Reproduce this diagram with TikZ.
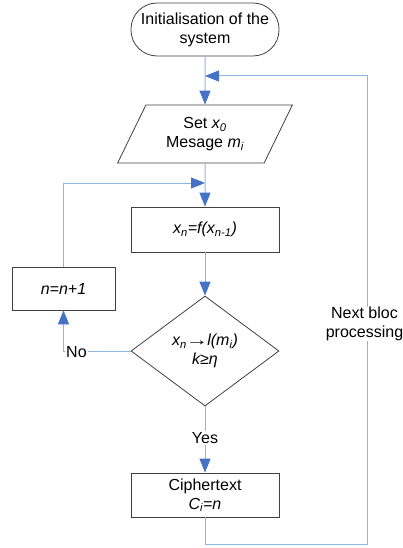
\documentclass[tikz,border=0pt]{standalone}
\usepackage{fontspec}
\setmainfont{Liberation Sans}
\usetikzlibrary{arrows.meta,shapes.geometric}

\definecolor{linkblue}{RGB}{141,180,226}
\definecolor{headblue}{RGB}{68,114,196}
\definecolor{boxgray}{RGB}{64,64,64}

\tikzset{
  box/.style={draw=boxgray, line width=0.8pt, align=center, inner sep=0pt},
  link/.style={draw=linkblue, line width=1pt},
  flow/.style={-{Triangle[length=14pt,width=11pt,color=headblue]}},
  lbl/.style={fill=white, inner sep=1pt, align=center},
}

\begin{document}
\begin{tikzpicture}[x=1pt, y=-1pt, font=\fontsize{16}{19}\selectfont]
  %\draw[lightgray] (0,0) grid[step=20] (403,548);
  \useasboundingbox (0,0) rectangle (403,548);

  \node[box, rounded corners=26pt, minimum width=148pt, minimum height=53pt] (init) at (205,29.5) {Initialisation of the\\system};
  \node[box, trapezium, trapezium left angle=61, trapezium right angle=119, trapezium stretches=true,
        minimum width=175pt, minimum height=58pt] (setx) at (205,134) {Set \textit{x\textsubscript{0}}\\Mesage \textit{m\textsubscript{i}}};
  \node[box, minimum width=148pt, minimum height=45pt] (calc) at (205,229.5) {\textit{x\textsubscript{n}=f(x\textsubscript{n-1})}};
  \node[box, diamond, aspect=1.35, minimum width=148pt, minimum height=110pt] (dec) at (205,351) {\textit{x\textsubscript{n}\kern-1pt\scalebox{1.4}[1]{→}\kern-1pt l(m\textsubscript{i})}\\\textit{k≥η}};
  \node[box, minimum width=103pt, minimum height=43pt] (incr) at (63.5,288.5) {\textit{n=n+1}};
  \node[box, minimum width=148pt, minimum height=44pt] (cipher) at (205,495) {Ciphertext\\\textit{C\textsubscript{i}=n}};

  \coordinate (rejoin) at (205,76);
  \coordinate (merge) at (205,183);
  \coordinate (turn) at (367,544);

  \draw[link, flow] (init) -- (setx);
  \draw[link, flow] (setx) -- (calc);
  \draw[link, flow] (calc) -- (dec);
  \draw[link, flow] (dec) -- (cipher);
  \draw[link, flow] (dec.west) -| (incr.south);
  \draw[link, flow] (incr.north) |- (merge);
  \draw[link, flow] (cipher.south) |- (turn) |- (rejoin);

  \node[lbl] (yes) at (205,438) {Yes};
  \node[lbl, anchor=west] (no) at (65,352) {No};
  \node[lbl, inner sep=0pt] (next) at (364.5,324) {Next bloc\\processing};
\end{tikzpicture}
\end{document}
